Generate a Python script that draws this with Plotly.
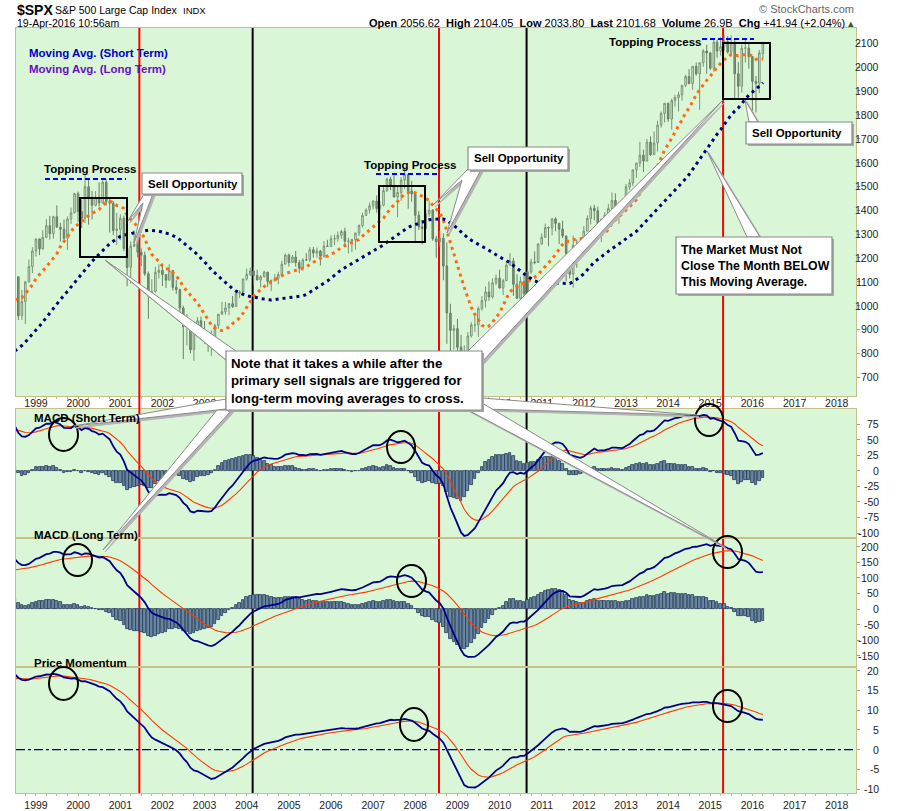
import numpy as np
import pandas as pd
import plotly.graph_objects as go

# ---------------- DATA ----------------
# monthly closes used only to warm up the indicators (Jan 1993 - Jun 1998)
warmup_closes = [
    438.78, 443.38, 451.67, 440.19, 450.19, 450.53, 448.13, 463.56, 458.93, 467.83, 461.79, 466.45,
    481.61, 467.14, 445.77, 450.91, 456.50, 444.27, 458.26, 475.49, 462.69, 472.35, 453.69, 459.27,
    470.42, 487.39, 500.71, 514.71, 533.40, 544.75, 562.06, 561.88, 584.41, 581.50, 605.37, 615.93,
    636.02, 640.43, 645.50, 654.17, 669.12, 670.63, 639.95, 651.99, 687.31, 705.27, 757.02, 740.74,
    786.16, 790.82, 757.12, 801.34, 848.28, 885.14, 954.29, 899.47, 947.28, 914.62, 955.40, 970.43,
    980.28, 1049.34, 1101.75, 1111.75, 1090.82, 1133.84]

# monthly OHLC, Jul 1998 - Apr 2016
opens = [
    1133.84, 1120.67, 957.28, 1017.01, 1098.67, 1163.63,
    1229.23, 1279.64, 1238.33, 1286.37, 1335.18, 1301.84, 1372.71, 1328.72, 1320.41, 1282.71, 1362.93, 1388.91,
    1469.25, 1394.46, 1366.42, 1498.58, 1452.43, 1420.60, 1454.60, 1430.83, 1517.68, 1436.51, 1429.40, 1314.95,
    1320.28, 1366.01, 1239.94, 1160.33, 1249.46, 1255.82, 1224.42, 1211.23, 1133.58, 1040.94, 1059.78, 1139.45,
    1148.08, 1130.20, 1106.73, 1147.39, 1076.92, 1067.14, 989.82, 911.62, 916.07, 815.28, 885.76, 936.31,
    879.82, 855.70, 841.15, 848.18, 916.92, 963.59, 974.50, 990.31, 1008.01, 995.97, 1050.71, 1058.20,
    1111.92, 1131.13, 1144.94, 1126.21, 1107.30, 1120.68, 1140.84, 1101.72, 1104.24, 1114.58, 1130.20, 1173.82,
    1211.92, 1181.27, 1203.60, 1180.59, 1156.85, 1191.50, 1191.33, 1234.18, 1220.33, 1228.81, 1207.01, 1249.48,
    1248.29, 1280.08, 1280.66, 1294.87, 1310.61, 1270.09, 1270.20, 1276.66, 1303.82, 1335.85, 1377.94, 1400.63,
    1418.30, 1438.24, 1406.82, 1420.86, 1482.37, 1530.62, 1503.35, 1455.27, 1473.99, 1526.75, 1549.38, 1481.14,
    1468.36, 1378.55, 1330.63, 1322.70, 1385.59, 1400.38, 1280.00, 1267.38, 1282.83, 1166.36, 968.75, 896.24,
    903.25, 825.88, 735.09, 797.87, 872.81, 919.14, 919.32, 987.48, 1020.62, 1057.08, 1036.19, 1095.63,
    1115.10, 1073.87, 1104.49, 1169.43, 1186.69, 1089.41, 1030.71, 1101.60, 1049.33, 1141.20, 1183.26, 1180.55,
    1257.64, 1286.12, 1327.22, 1325.83, 1363.61, 1345.20, 1320.64, 1292.28, 1218.89, 1131.42, 1253.30, 1246.96,
    1257.60, 1312.41, 1365.68, 1408.47, 1397.91, 1310.33, 1362.16, 1379.32, 1406.58, 1440.67, 1412.16, 1416.18,
    1426.19, 1498.11, 1514.68, 1569.19, 1597.57, 1630.74, 1606.28, 1685.73, 1632.97, 1681.55, 1756.54, 1805.81,
    1848.36, 1782.59, 1859.45, 1872.34, 1883.95, 1923.57, 1960.23, 1930.67, 2003.37, 1972.29, 2018.05, 2067.56,
    2058.90, 1994.99, 2104.50, 2067.89, 2085.51, 2107.39, 2063.11, 2103.84, 1972.18, 1920.03, 2079.36, 2080.41,
    2043.94, 1940.24, 1932.23, 2056.62]
highs = [
    1190.58, 1121.00, 1066.11, 1103.78, 1192.97, 1244.93,
    1280.00, 1281.00, 1316.55, 1362.80, 1375.98, 1376.81, 1420.33, 1347.00, 1361.00, 1373.90, 1411.00, 1473.00,
    1478.00, 1444.55, 1552.87, 1527.19, 1481.51, 1480.00, 1517.32, 1525.21, 1530.09, 1454.82, 1438.46, 1389.06,
    1383.37, 1376.54, 1267.42, 1269.30, 1315.93, 1286.62, 1239.78, 1226.27, 1143.00, 1110.61, 1163.38, 1173.00,
    1176.55, 1131.00, 1173.03, 1147.84, 1106.59, 1070.70, 1000.00, 965.00, 924.02, 900.96, 951.57, 954.28,
    935.05, 864.64, 895.90, 924.24, 965.38, 1015.33, 1015.41, 1011.01, 1040.29, 1053.79, 1063.65, 1112.56,
    1155.38, 1158.98, 1163.23, 1150.57, 1127.74, 1146.34, 1140.84, 1109.68, 1131.54, 1142.05, 1188.46, 1217.90,
    1217.80, 1212.44, 1229.11, 1191.88, 1199.56, 1219.59, 1245.15, 1245.86, 1243.13, 1233.34, 1270.64, 1275.80,
    1294.90, 1297.57, 1310.88, 1318.16, 1326.70, 1284.00, 1280.42, 1306.74, 1340.28, 1389.45, 1407.89, 1431.81,
    1441.61, 1461.57, 1438.89, 1498.02, 1535.56, 1540.56, 1555.90, 1503.89, 1538.74, 1576.09, 1545.79, 1523.57,
    1471.77, 1396.02, 1359.68, 1404.57, 1440.24, 1404.05, 1292.17, 1313.15, 1303.04, 1264.80, 1007.51, 918.85,
    943.85, 877.86, 832.98, 888.70, 930.17, 956.23, 996.68, 1039.47, 1080.15, 1101.36, 1113.69, 1130.38,
    1150.45, 1112.42, 1180.16, 1219.80, 1200.26, 1131.23, 1120.95, 1129.24, 1148.67, 1196.14, 1227.08, 1262.60,
    1302.67, 1344.07, 1332.28, 1366.60, 1370.58, 1345.20, 1356.48, 1292.66, 1229.29, 1292.66, 1277.55, 1269.37,
    1333.47, 1378.04, 1419.15, 1422.38, 1415.32, 1363.46, 1391.74, 1426.68, 1474.51, 1470.96, 1434.27, 1448.00,
    1509.94, 1530.94, 1570.28, 1597.57, 1687.18, 1654.19, 1698.78, 1709.67, 1729.86, 1775.22, 1813.55, 1849.44,
    1850.84, 1867.92, 1883.97, 1897.28, 1924.03, 1968.17, 1991.39, 2005.04, 2019.26, 2018.19, 2075.76, 2093.55,
    2064.43, 2119.59, 2114.86, 2125.92, 2134.72, 2129.87, 2132.82, 2112.66, 2020.86, 2094.32, 2116.48, 2104.27,
    2038.20, 1962.96, 2072.21, 2104.05]
lows = [
    1114.30, 939.98, 939.87, 923.32, 1098.92, 1136.89,
    1205.46, 1211.65, 1234.00, 1282.00, 1277.00, 1281.00, 1328.00, 1268.00, 1263.00, 1233.70, 1342.00, 1387.00,
    1350.00, 1325.07, 1346.62, 1339.40, 1361.09, 1416.00, 1416.00, 1429.00, 1419.44, 1305.79, 1294.90, 1254.07,
    1274.62, 1228.33, 1081.19, 1091.99, 1245.00, 1203.03, 1165.54, 1124.87, 944.75, 1026.76, 1054.31, 1114.00,
    1081.66, 1074.36, 1106.73, 1063.46, 1048.96, 952.92, 775.68, 833.44, 800.20, 768.63, 872.05, 871.85,
    840.34, 806.29, 788.90, 847.85, 902.83, 963.59, 962.10, 960.84, 990.36, 995.93, 1031.20, 1053.41,
    1105.00, 1124.44, 1087.16, 1107.23, 1076.32, 1118.61, 1078.78, 1060.72, 1101.29, 1090.19, 1127.60, 1173.78,
    1163.75, 1180.50, 1163.69, 1136.15, 1146.18, 1188.30, 1183.55, 1201.07, 1201.07, 1168.20, 1201.07, 1246.59,
    1245.74, 1253.61, 1268.04, 1280.74, 1245.34, 1219.29, 1224.54, 1234.36, 1290.93, 1327.10, 1377.83, 1385.93,
    1403.97, 1389.42, 1363.98, 1416.37, 1476.70, 1484.18, 1454.25, 1370.60, 1439.29, 1489.56, 1406.10, 1435.65,
    1270.05, 1317.54, 1256.98, 1324.35, 1373.07, 1272.00, 1200.44, 1247.45, 1106.42, 839.80, 741.02, 815.69,
    804.47, 734.52, 666.79, 783.32, 866.10, 888.86, 869.32, 978.51, 991.97, 1020.18, 1029.38, 1085.89,
    1071.59, 1044.50, 1105.36, 1170.69, 1040.78, 1028.33, 1010.91, 1039.70, 1039.70, 1131.87, 1173.00, 1186.60,
    1256.14, 1282.86, 1249.05, 1294.70, 1311.80, 1258.07, 1282.86, 1101.54, 1114.22, 1074.77, 1158.66, 1202.37,
    1258.86, 1312.16, 1340.03, 1357.38, 1291.98, 1266.74, 1325.41, 1354.65, 1396.56, 1403.28, 1343.35, 1398.11,
    1426.19, 1485.01, 1501.48, 1536.03, 1581.28, 1560.33, 1604.57, 1627.47, 1633.41, 1646.47, 1746.20, 1767.99,
    1770.45, 1737.92, 1834.44, 1814.36, 1859.79, 1915.98, 1930.67, 1904.78, 1964.04, 1820.66, 2001.01, 1972.56,
    1988.12, 1980.90, 2039.69, 2048.38, 2067.93, 2056.32, 2044.02, 1867.01, 1871.91, 1893.70, 2019.39, 1993.26,
    1812.29, 1810.10, 1891.00, 2033.80]
closes = [
    1120.67, 957.28, 1017.01, 1098.67, 1163.63, 1229.23,
    1279.64, 1238.33, 1286.37, 1335.18, 1301.84, 1372.71, 1328.72, 1320.41, 1282.71, 1362.93, 1388.91, 1469.25,
    1394.46, 1366.42, 1498.58, 1452.43, 1420.60, 1454.60, 1430.83, 1517.68, 1436.51, 1429.40, 1314.95, 1320.28,
    1366.01, 1239.94, 1160.33, 1249.46, 1255.82, 1224.42, 1211.23, 1133.58, 1040.94, 1059.78, 1139.45, 1148.08,
    1130.20, 1106.73, 1147.39, 1076.92, 1067.14, 989.82, 911.62, 916.07, 815.28, 885.76, 936.31, 879.82,
    855.70, 841.15, 848.18, 916.92, 963.59, 974.50, 990.31, 1008.01, 995.97, 1050.71, 1058.20, 1111.92,
    1131.13, 1144.94, 1126.21, 1107.30, 1120.68, 1140.84, 1101.72, 1104.24, 1114.58, 1130.20, 1173.82, 1211.92,
    1181.27, 1203.60, 1180.59, 1156.85, 1191.50, 1191.33, 1234.18, 1220.33, 1228.81, 1207.01, 1249.48, 1248.29,
    1280.08, 1280.66, 1294.87, 1310.61, 1270.09, 1270.20, 1276.66, 1303.82, 1335.85, 1377.94, 1400.63, 1418.30,
    1438.24, 1406.82, 1420.86, 1482.37, 1530.62, 1503.35, 1455.27, 1473.99, 1526.75, 1549.38, 1481.14, 1468.36,
    1378.55, 1330.63, 1322.70, 1385.59, 1400.38, 1280.00, 1267.38, 1282.83, 1166.36, 968.75, 896.24, 903.25,
    825.88, 735.09, 797.87, 872.81, 919.14, 919.32, 987.48, 1020.62, 1057.08, 1036.19, 1095.63, 1115.10,
    1073.87, 1104.49, 1169.43, 1186.69, 1089.41, 1030.71, 1101.60, 1049.33, 1141.20, 1183.26, 1180.55, 1257.64,
    1286.12, 1327.22, 1325.83, 1363.61, 1345.20, 1320.64, 1292.28, 1218.89, 1131.42, 1253.30, 1246.96, 1257.60,
    1312.41, 1365.68, 1408.47, 1397.91, 1310.33, 1362.16, 1379.32, 1406.58, 1440.67, 1412.16, 1416.18, 1426.19,
    1498.11, 1514.68, 1569.19, 1597.57, 1630.74, 1606.28, 1685.73, 1632.97, 1681.55, 1756.54, 1805.81, 1848.36,
    1782.59, 1859.45, 1872.34, 1883.95, 1923.57, 1960.23, 1930.67, 2003.37, 1972.29, 2018.05, 2067.56, 2058.90,
    1994.99, 2104.50, 2067.89, 2085.51, 2107.39, 2063.11, 2103.84, 1972.18, 1920.03, 2079.36, 2080.41, 2043.94,
    1940.24, 1932.23, 2059.74, 2101.68]

first_month = "1998-07-01"
warmup_first_month = "1993-01-01"
year_ticks = list(range(1999, 2019))
price_ticks = [700, 800, 900, 1000, 1100, 1200, 1300, 1400, 1500, 1600, 1700, 1800, 1900, 2000, 2100]
macd_s_ticks = [-100, -75, -50, -25, 0, 25, 50, 75]
macd_l_ticks = [-150, -100, -50, 0, 50, 100, 150, 200]
mom_ticks = [-10, -5, 0, 5, 10, 15, 20]
red_signal_dates = ["2001-06-15", "2008-07-25", "2015-04-22"]
black_signal_dates = ["2004-02-22", "2010-08-23"]

# ---------------- INDICATORS (derived from the closes) ----------------
dates = pd.date_range(first_month, periods=len(closes), freq="MS")
wdates = pd.date_range(warmup_first_month, periods=len(warmup_closes), freq="MS")
allc = pd.Series(warmup_closes + closes, index=wdates.append(dates))

ma_short = allc.rolling(12).mean().loc[dates]
ma_long = allc.rolling(36).mean().loc[dates]


def macd(s, fast, slow, sig):
    m = s.ewm(span=fast, adjust=False).mean() - s.ewm(span=slow, adjust=False).mean()
    sg = m.ewm(span=sig, adjust=False).mean()
    return m.loc[dates], sg.loc[dates], (m - sg).loc[dates]


ms_line, ms_sig, ms_hist = macd(allc, 12, 20, 9)
ml_line, ml_sig, ml_hist = macd(allc, 14, 36, 18)

roc = allc.pct_change() * 100
pmo_fs = roc.ewm(alpha=2 / 35, adjust=False).mean() * 10
pmo = pmo_fs.ewm(alpha=2 / 20, adjust=False).mean()
pmo_sig = pmo.ewm(span=10, adjust=False).mean()
pmo, pmo_sig = pmo.loc[dates], pmo_sig.loc[dates]

# ---------------- STYLE / GEOMETRY ----------------
W, H = 900, 811
L, R, T, B = 16, 856, 28, 793
FONT = "Liberation Sans, Arial, sans-serif"
BG = "#d9f6d6"
BORDER = "#c8c08c"
NAVY = "#00008b"
SIGC = "#ff3c00"
CANDLE = "#7b9276"


def px(x):
    return (x - L) / (R - L)


def py(y):
    return (B - y) / (B - T)


fig = go.Figure()

fig.add_trace(go.Candlestick(
    x=dates, open=opens, high=highs, low=lows, close=closes,
    xaxis="x", yaxis="y", whiskerwidth=0,
    increasing=dict(line=dict(color=CANDLE, width=1), fillcolor="rgba(0,0,0,0)"),
    decreasing=dict(line=dict(color="#6a8065", width=1), fillcolor=CANDLE),
    showlegend=False, hoverinfo="skip"))
fig.add_trace(go.Scatter(x=dates, y=ma_short, xaxis="x", yaxis="y", mode="lines",
                         line=dict(color="#ff6a12", width=3, dash="3px,4px"), showlegend=False))
fig.add_trace(go.Scatter(x=dates, y=ma_long, xaxis="x", yaxis="y", mode="lines",
                         line=dict(color="#00007a", width=3, dash="3px,4px"), showlegend=False))

barw = 24 * 86400000
for hist, line, sig, xa, ya in [(ms_hist, ms_line, ms_sig, "x2", "y2"),
                                 (ml_hist, ml_line, ml_sig, "x3", "y3")]:
    fig.add_trace(go.Bar(x=dates, y=hist, xaxis=xa, yaxis=ya, width=barw,
                         marker=dict(color="#6a87a6", line=dict(color="#253a58", width=0.8)),
                         showlegend=False))
    fig.add_trace(go.Scatter(x=dates, y=sig, xaxis=xa, yaxis=ya, mode="lines",
                             line=dict(color=SIGC, width=1.1), showlegend=False))
    fig.add_trace(go.Scatter(x=dates, y=line, xaxis=xa, yaxis=ya, mode="lines",
                             line=dict(color=NAVY, width=1.8), showlegend=False))

fig.add_trace(go.Scatter(x=dates, y=pmo_sig, xaxis="x4", yaxis="y4", mode="lines",
                         line=dict(color=SIGC, width=1.1), showlegend=False))
fig.add_trace(go.Scatter(x=dates, y=pmo, xaxis="x4", yaxis="y4", mode="lines",
                         line=dict(color=NAVY, width=1.8), showlegend=False))

# ---------------- AXES ----------------
xr = ["1998-07-12", "2018-06-17"]
tickdates = [f"{y}-01-01" for y in year_ticks]
common_x = dict(type="date", range=xr, showgrid=False, zeroline=False, showline=True, mirror=True,
                linecolor=BORDER, linewidth=1, ticks="outside", ticklen=2, tickcolor=BORDER,
                tickvals=tickdates, ticktext=[str(y) for y in year_ticks], automargin=False,
                tickfont=dict(family=FONT, size=10.5, color="#222"),
                minor=dict(ticks="outside", ticklen=2, tickcolor=BORDER, dtick="M3"))
common_y = dict(side="right", showgrid=False, zeroline=False, showline=True, mirror=True,
                linecolor=BORDER, linewidth=1, ticks="outside", ticklen=3, tickcolor="#999",
                showticklabels=False, automargin=False)

doms = {"y": [py(396), 1], "y2": [py(538), py(409)], "y3": [py(667), py(538)], "y4": [0, py(667)]}
ranges = {"y": [621, 2164], "y2": [-108, 99.1], "y3": [-186, 228], "y4": [-11.0, 20.9]}
tks = {"y": price_ticks, "y2": macd_s_ticks, "y3": macd_l_ticks, "y4": mom_ticks}

layout_axes = {}
for ya in ["y", "y2", "y3", "y4"]:
    xa = "x" if ya == "y" else "x" + ya[1:]
    xkey = "xaxis" if xa == "x" else "xaxis" + xa[1:]
    ykey = "yaxis" if ya == "y" else "yaxis" + ya[1:]
    xd = dict(common_x, anchor=ya, domain=[0, 1], rangeslider=dict(visible=False))
    if xa != "x":
        xd["matches"] = "x"
    if xa == "x":
        xd["ticklabelstandoff"] = -5
    if xa in ("x2", "x3"):
        xd["showticklabels"] = False
        xd["ticks"] = ""
        xd["minor"] = dict(ticks="")
    layout_axes[xkey] = xd
    layout_axes[ykey] = dict(common_y, anchor=xa, domain=doms[ya], range=ranges[ya], tickvals=tks[ya])

fig.update_layout(width=W, height=H, margin=dict(l=L, r=W - R, t=T, b=H - B, autoexpand=False),
                  paper_bgcolor="white", plot_bgcolor=BG, bargap=0, showlegend=False,
                  font=dict(family=FONT, color="#000"), **layout_axes)

# ---------------- SHAPES ----------------
shapes = []

for d_list, col in [(red_signal_dates, "#ff0000"), (black_signal_dates, "#000000")]:
    for d in d_list:
        for ya in ["y", "y2", "y3", "y4"]:
            xa = "x" if ya == "y" else "x" + ya[1:]
            shapes.append(dict(type="line", xref=xa, yref=ya + " domain", x0=d, x1=d, y0=0, y1=1,
                               line=dict(color=col, width=2), layer="below"))
        shapes.append(dict(type="line", xref="x", yref="paper", x0=d, x1=d, y0=py(409), y1=py(396),
                           line=dict(color=col, width=2), layer="above"))

shapes.append(dict(type="line", xref="paper", yref="y4", x0=0, x1=1, y0=0, y1=0,
                   line=dict(color="#000080", width=1.2, dash="dashdot"), layer="below"))


def rect_px(x0, y0, x1, y1, **kw):
    shapes.append(dict(type="rect", xref="paper", yref="paper", x0=px(x0), x1=px(x1),
                       y0=py(y1), y1=py(y0), **kw))


def circ_px(x0, y0, x1, y1):
    shapes.append(dict(type="circle", xref="paper", yref="paper", x0=px(x0), x1=px(x1),
                       y0=py(y1), y1=py(y0), line=dict(color="black", width=2)))


def line_px(x0, y0, x1, y1, **kw):
    shapes.append(dict(type="line", xref="paper", yref="paper", x0=px(x0), x1=px(x1),
                       y0=py(y0), y1=py(y1), **kw))


def poly_px(pts, fill="white", line="#8a8a8a"):
    path = "M " + " L ".join(f"{px(x):.5f},{py(y):.5f}" for x, y in pts) + " Z"
    shapes.append(dict(type="path", xref="paper", yref="paper", path=path, fillcolor=fill,
                       line=dict(color=line, width=1)))


for b in [(80, 198, 127, 257), (379, 186, 425, 242), (723, 43, 770, 99)]:
    rect_px(*b, line=dict(color="black", width=2), fillcolor="rgba(0,0,0,0)")

for l in [(45, 179, 126, 179), (376, 174, 439, 174), (702, 39, 754, 39)]:
    line_px(*l, line=dict(color="#0000ff", width=2, dash="5px,3px"))

for c in [(49, 418, 78, 451), (387, 431, 415, 463), (695, 404, 723, 436),
          (63, 544, 92, 576), (397, 565, 426, 597), (713, 536, 742, 568),
          (49, 667, 78, 700), (400, 708, 428, 741), (713, 690, 742, 722)]:
    circ_px(*c)

tails = [
    [(144, 194), (128, 221), (143, 203), (134, 243), (153, 194)],
    [(470, 167), (433, 205), (462, 180), (447, 233), (481, 170)],
    [(749, 122), (745, 100), (758, 122)],
    [(747, 237), (707, 151), (760, 237)],
    [(236, 351), (105, 260), (226, 360)],
    [(226, 399), (74, 426), (226, 409)],
    [(217, 410), (103, 550), (232, 410)],
    [(468, 351), (723, 100), (482, 362)],
    [(482, 398), (697, 415), (482, 409)],
    [(468, 410), (725, 547), (482, 403)],
]
for t in tails:
    poly_px([(x + 2, y + 2) for x, y in t], fill="#b4b4b4", line="#b4b4b4")
for t in tails:
    poly_px(t)

for b in [(142, 173, 242, 194), (468, 147, 568, 170), (746, 122, 852, 144),
          (676, 237, 832, 294), (226, 351, 482, 410)]:
    rect_px(b[0] + 2, b[1] + 2, b[2] + 2, b[3] + 2, fillcolor="#a8a8a8", line=dict(width=0))
    rect_px(*b, fillcolor="white", line=dict(color="#8a8a8a", width=1.2))

fig.update_layout(shapes=shapes)

# ---------------- TEXT ----------------
ann = []


def text_px(x, y, s, size=11.5, color="#000", xanchor="left", bold=True, yanchor="middle"):
    ann.append(dict(xref="paper", yref="paper", x=px(x), y=py(y), text=(f"<b>{s}</b>" if bold else s),
                    showarrow=False, xanchor=xanchor, yanchor=yanchor, align="left",
                    font=dict(family=FONT, size=size, color=color)))


text_px(15, 9.5, "$SPX", size=14)
text_px(53, 10, "S&P 500 Large Cap Index", size=10.5, bold=False)
text_px(181, 10, "INDX", size=9.5, bold=False)
text_px(15, 23, "19-Apr-2016 10:56am", size=10.5, bold=False)
text_px(856, 9, "© StockCharts.com", size=11, bold=False, color="#666", xanchor="right")
text_px(856, 23, "<b>Open</b> 2056.62  <b>High</b> 2104.05  <b>Low</b> 2033.80  <b>Last</b> 2101.68  "
        "<b>Volume</b> 26.9B  <b>Chg</b> +41.94 (+2.04%) <span style='color:#3a5a3a'>▴</span>",
        size=11, bold=False, xanchor="right")

text_px(27, 53, "Moving Avg. (Short Term)", color="#0000cc")
text_px(27, 69, "Moving Avg. (Long Term)", color="#6a10c8")

text_px(42, 169, "Topping Process")
text_px(362, 165, "Topping Process")
text_px(607, 42, "Topping Process")

text_px(146, 184, "Sell Opportunity")
text_px(472, 158.5, "Sell Opportunity")
text_px(750, 133.5, "Sell Opportunity")
text_px(679, 266, "The Market Must Not<br>Close The Month BELOW<br>This Moving Average.", size=12.3)
text_px(229, 381, "Note that it takes a while after the<br>primary sell signals are triggered for<br>"
        "long-term moving averages to cross.", size=13.3)

text_px(32, 418, "MACD (Short Term)")
text_px(32, 535, "MACD (Long Term)")
text_px(32, 663, "Price Momentum")

for ya, vals in tks.items():
    for v in vals:
        ann.append(dict(xref="paper", yref=ya, x=px(881), y=v, text=str(v), showarrow=False,
                        xanchor="right", yanchor="middle",
                        font=dict(family=FONT, size=10.5, color="#222")))

fig.update_layout(annotations=ann)
fig.write_html("out.html", config={"displayModeBar": False},
               post_script="document.body.style.margin='0px';")
